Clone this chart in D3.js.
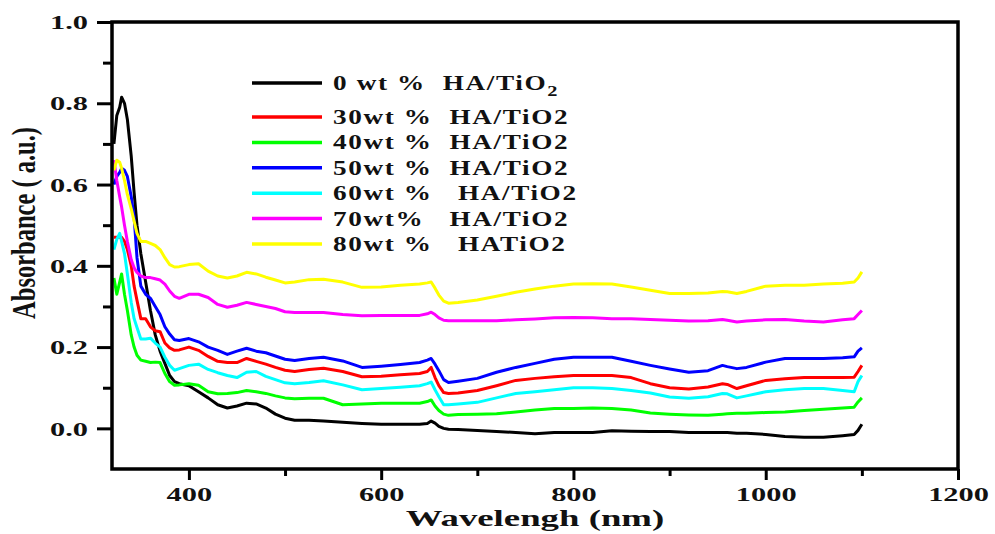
<!DOCTYPE html>
<html>
<head>
<meta charset="utf-8">
<script src="https://cdn.jsdelivr.net/npm/d3@7/dist/d3.min.js"></script>
<style>
body { margin: 0; background: #fff; }
text { font-family: "Liberation Serif", "Times New Roman", serif; font-weight: bold; }
</style>
</head>
<body>
<svg id="chart" width="995" height="534"></svg>
<script>
// wavelength grid (nm) shared by all curves
var wavelength = [322,325,328,330,333,336,340,343,346,350,355,360,365,370,375,380,385,390,400,410,420,430,440,450,460,470,480,490,500,510,525,540,560,580,600,620,640,648,652,656,660,665,670,680,700,720,740,760,780,800,820,840,860,880,900,920,940,955,960,970,980,1000,1020,1040,1060,1080,1092,1096,1100];

var abs0  = [0.70,0.77,0.79,0.815,0.80,0.76,0.67,0.58,0.50,0.43,0.36,0.29,0.23,0.19,0.16,0.13,0.115,0.11,0.105,0.09,0.075,0.058,0.05,0.055,0.062,0.06,0.05,0.035,0.025,0.02,0.02,0.018,0.015,0.012,0.01,0.01,0.01,0.012,0.018,0.013,0.005,0.0,-0.002,-0.003,-0.005,-0.008,-0.01,-0.013,-0.01,-0.01,-0.01,-0.006,-0.007,-0.008,-0.008,-0.01,-0.01,-0.01,-0.01,-0.012,-0.012,-0.015,-0.02,-0.022,-0.022,-0.018,-0.015,-0.005,0.01];
var abs30 = [0.47,0.47,0.47,0.47,0.46,0.44,0.40,0.35,0.315,0.27,0.27,0.25,0.24,0.238,0.21,0.198,0.192,0.193,0.2,0.192,0.177,0.165,0.162,0.162,0.172,0.165,0.158,0.15,0.143,0.14,0.145,0.148,0.14,0.127,0.128,0.132,0.135,0.14,0.15,0.125,0.105,0.088,0.086,0.087,0.093,0.105,0.118,0.123,0.127,0.13,0.13,0.13,0.125,0.11,0.1,0.097,0.102,0.11,0.108,0.098,0.105,0.118,0.122,0.125,0.125,0.125,0.126,0.14,0.155];
var abs40 = [0.37,0.33,0.36,0.38,0.33,0.29,0.23,0.2,0.18,0.168,0.165,0.162,0.163,0.162,0.135,0.115,0.106,0.107,0.11,0.106,0.09,0.085,0.086,0.088,0.093,0.09,0.086,0.08,0.075,0.073,0.074,0.074,0.058,0.06,0.062,0.062,0.062,0.066,0.07,0.055,0.044,0.035,0.032,0.034,0.035,0.036,0.04,0.045,0.049,0.049,0.05,0.049,0.045,0.038,0.035,0.033,0.032,0.035,0.036,0.037,0.037,0.039,0.04,0.044,0.047,0.05,0.052,0.065,0.075];
var abs50 = [0.60,0.62,0.63,0.64,0.635,0.62,0.57,0.52,0.42,0.35,0.33,0.32,0.30,0.28,0.25,0.232,0.218,0.216,0.221,0.213,0.2,0.192,0.182,0.19,0.197,0.19,0.186,0.178,0.17,0.167,0.172,0.175,0.166,0.15,0.153,0.157,0.162,0.168,0.172,0.158,0.142,0.12,0.113,0.116,0.123,0.138,0.15,0.16,0.17,0.175,0.175,0.175,0.165,0.155,0.146,0.138,0.142,0.155,0.152,0.147,0.15,0.163,0.172,0.172,0.172,0.174,0.176,0.19,0.198];
var abs60 = [0.44,0.465,0.48,0.46,0.43,0.38,0.31,0.27,0.248,0.22,0.22,0.222,0.21,0.2,0.175,0.155,0.143,0.147,0.155,0.158,0.145,0.137,0.13,0.125,0.138,0.14,0.128,0.12,0.112,0.11,0.113,0.117,0.107,0.095,0.098,0.101,0.105,0.11,0.114,0.095,0.078,0.058,0.058,0.06,0.064,0.075,0.086,0.09,0.095,0.1,0.1,0.098,0.093,0.087,0.077,0.074,0.078,0.086,0.085,0.075,0.08,0.09,0.095,0.098,0.098,0.093,0.09,0.115,0.13];
var abs70 = [0.66,0.61,0.57,0.545,0.5,0.46,0.415,0.395,0.384,0.375,0.371,0.371,0.368,0.365,0.355,0.338,0.325,0.32,0.33,0.33,0.322,0.305,0.298,0.303,0.31,0.305,0.3,0.295,0.287,0.285,0.285,0.285,0.28,0.277,0.278,0.278,0.278,0.282,0.286,0.28,0.272,0.266,0.265,0.265,0.265,0.265,0.267,0.269,0.272,0.273,0.272,0.27,0.27,0.268,0.266,0.264,0.265,0.268,0.266,0.262,0.264,0.267,0.268,0.264,0.262,0.267,0.27,0.28,0.29];
var abs80 = [0.635,0.66,0.655,0.64,0.61,0.575,0.54,0.51,0.48,0.46,0.46,0.455,0.45,0.44,0.42,0.403,0.397,0.398,0.403,0.405,0.387,0.375,0.37,0.375,0.384,0.38,0.372,0.365,0.358,0.36,0.366,0.367,0.36,0.347,0.348,0.352,0.355,0.358,0.36,0.345,0.328,0.313,0.308,0.31,0.316,0.325,0.335,0.343,0.35,0.355,0.356,0.355,0.348,0.34,0.332,0.332,0.333,0.337,0.336,0.332,0.337,0.35,0.352,0.352,0.355,0.357,0.36,0.37,0.385];

var seriesValues = [abs0, abs30, abs40, abs50, abs60, abs70, abs80];
var seriesColors = ["#000000", "#ff0000", "#00ff00", "#0000ff", "#00ffff", "#ff00ff", "#ffff00"];
var legendLabels = ["0 wt %  HA/TiO", "30wt %  HA/TiO2", "40wt %  HA/TiO2", "50wt %  HA/TiO2",
                    "60wt %   HA/TiO2", "70wt%   HA/TiO2", "80wt %   HATiO2"];

var xMajor = [400, 600, 800, 1000, 1200];
var xMinor = [500, 700, 900, 1100];
var yMajor = [0.0, 0.2, 0.4, 0.6, 0.8, 1.0];
var yMinor = [0.1, 0.3, 0.5, 0.7, 0.9];

function drawChart() {
	var stretch = 1.6;   // the original picture is squeezed: text looks wide

	var svg = d3.select("#chart");
	var pLeft = 112, pRight = 958, pTop = 22, pBottom = 469;

	var x = d3.scaleLinear().domain([320, 1200]).range([pLeft, pRight]);
	var y = d3.scaleLinear().domain([-0.1, 1.0]).range([pBottom, pTop]);

	// curves
	var line = d3.line()
		.x(function(d) { return x(d[0]); })
		.y(function(d) { return y(d[1]); });

	seriesValues.forEach(function(vals, i) {
		var pts = wavelength.map(function(w, j) { return [w, vals[j]]; });
		svg.append("path")
			.datum(pts)
			.attr("d", line)
			.attr("fill", "none")
			.attr("stroke", seriesColors[i])
			.attr("stroke-width", 3)
			.attr("stroke-linejoin", "round");
	});

	// axes
	var gy = svg.append("g").attr("transform", "translate(" + pLeft + ",0)")
		.call(d3.axisLeft(y).tickValues(yMajor).tickSize(15).tickFormat(d3.format(".1f")));
	var gyMinor = svg.append("g").attr("transform", "translate(" + pLeft + ",0)")
		.call(d3.axisLeft(y).tickValues(yMinor).tickSize(9).tickFormat(""));
	var gx = svg.append("g").attr("transform", "translate(0," + pBottom + ")")
		.call(d3.axisBottom(x).tickValues(xMajor).tickSize(11).tickFormat(d3.format("d")));
	var gxMinor = svg.append("g").attr("transform", "translate(0," + pBottom + ")")
		.call(d3.axisBottom(x).tickValues(xMinor).tickSize(7).tickFormat(""));

	[gy, gyMinor, gx, gxMinor].forEach(function(g) {
		g.select(".domain").remove();
		g.selectAll(".tick line").attr("stroke", "#000").attr("stroke-width", 3);
	});

	gy.selectAll(".tick text")
		.attr("x", 0).attr("dy", "0.35em")
		.attr("transform", "translate(-24,0) scale(" + stretch + ",1)")
		.attr("font-size", 19)
		.attr("font-family", null)
		.attr("fill", "#111");
	gx.selectAll(".tick text")
		.attr("y", 0).attr("dy", 0)
		.attr("transform", "translate(0,32) scale(" + stretch + ",1)")
		.attr("font-size", 19)
		.attr("font-family", null)
		.attr("fill", "#111");

	// frame
	svg.append("rect")
		.attr("x", pLeft).attr("y", pTop)
		.attr("width", pRight - pLeft).attr("height", pBottom - pTop)
		.attr("fill", "none").attr("stroke", "#000").attr("stroke-width", 3.5);

	// axis titles
	svg.append("text")
		.attr("transform", "translate(535,526) scale(" + stretch + ",1)")
		.attr("text-anchor", "middle")
		.attr("font-size", 23)
		.attr("fill", "#111")
		.text("Wavelengh (nm)");

	svg.append("text")
		.attr("transform", "translate(35,223) scale(1.4,1) rotate(-90)")
		.attr("text-anchor", "middle")
		.attr("font-size", 24.5)
		.attr("fill", "#111")
		.text("Absorbance ( a.u.)");

	// legend
	var legend = svg.append("g");
	legendLabels.forEach(function(lab, i) {
		var ly = i === 0 ? 83 : 117 + (i - 1) * 25.4;
		legend.append("line")
			.attr("x1", 252).attr("x2", 322)
			.attr("y1", ly).attr("y2", ly)
			.attr("stroke", seriesColors[i]).attr("stroke-width", 3.5);
		var t = legend.append("text")
			.attr("transform", "translate(333," + (ly + 7) + ") scale(1.36,1)")
			.attr("font-size", 20)
			.attr("letter-spacing", 1.2)
			.attr("fill", "#111")
			.style("white-space", "pre")
			.text(lab);
		if (i === 0) {
			t.append("tspan").attr("dy", 6).attr("font-size", 15).text("2");
		}
	});
}

drawChart();
</script>
</body>
</html>
